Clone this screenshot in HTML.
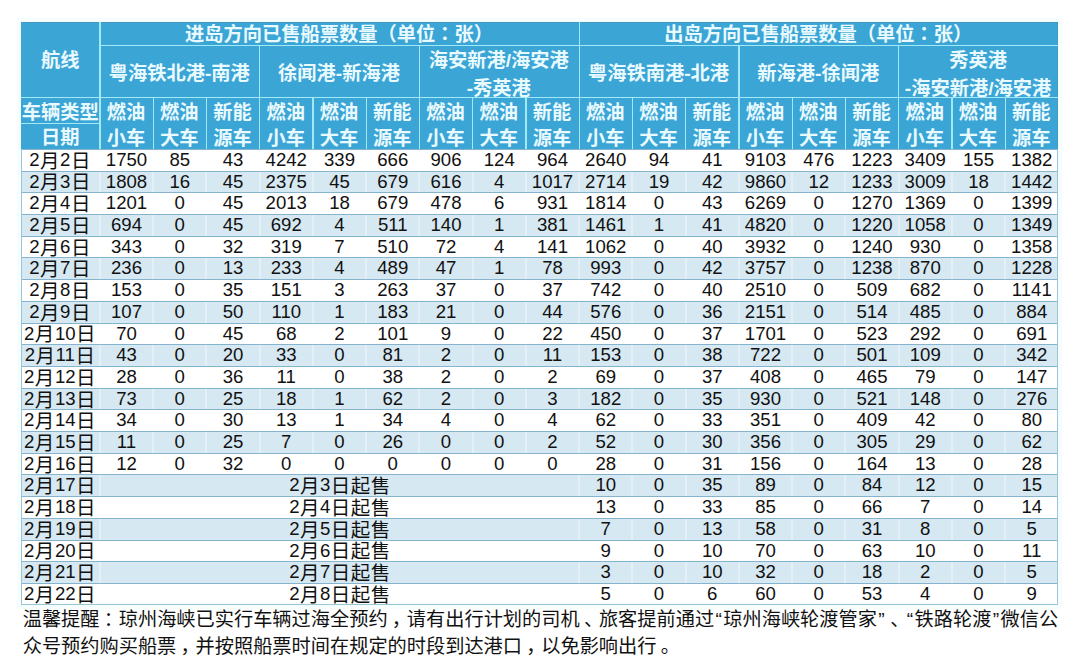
<!DOCTYPE html>
<html lang="zh-CN">
<head>
<meta charset="utf-8">
<title>琼州海峡已售船票数量</title>
<style>
html,body{margin:0;padding:0;background:#fff;}
body{width:1080px;height:671px;position:relative;overflow:hidden;
 font-family:"Liberation Sans","Noto Sans CJK SC",sans-serif;color:#111;}
.abs,.abs>*{position:absolute;}
#halo{left:17.3px;top:17.75px;width:1044.6px;height:590.95px;background:#f6fdfe;}
#head{left:21.3px;top:21.75px;width:1036.6px;height:127.15px;background:#3ba5d6;box-shadow:inset 0 1px 0 #4399c4,inset -1px 0 0 #4399c4;}
.vl{width:1.2px;background:#a2e9f8;}
.hl{height:1.2px;background:#a2e9f8;}
.h{color:#e9faff;font-weight:700;font-size:19.25px;line-height:24px;text-align:center;white-space:nowrap;}
#body{left:21.3px;top:148.9px;width:1036.6px;height:455.8px;background:#fff;
 box-sizing:border-box;border-left:1px solid #9cc6d8;border-right:1px solid #9cc6d8;border-bottom:1px solid #9cc6d8;}
.r{left:0;width:100%;height:21.7px;box-sizing:border-box;border-top:1px solid #86b3cd;font-size:18.6px;line-height:19.9px;}
.r.e{background:#d6e8f2;}
.r>*{position:absolute;}
.r>span{top:0;height:100%;text-align:center;white-space:nowrap;}
.r>span.d{left:-1.3px;width:78.1px;}
.r>span.m{left:78.1px;width:479.25px;}
.r i{font-style:normal;font-size:19.5px;letter-spacing:.5px;margin-left:.5px;position:relative;top:1.9px;}
.sv{top:0;width:2px;height:100%;background:rgba(255,255,255,.35);}
#note{left:22.7px;top:605.5px;width:1060px;font-size:19.22px;line-height:27px;color:#111;white-space:nowrap;}
u{text-decoration:none;position:relative;left:.22em;}
.h u{left:.25em;top:-1px;}
#note i{font-style:normal;display:inline-block;width:9.2px;text-align:center;}
</style>
</head>
<body>
<div id="halo" class="abs" style="position:absolute"></div>
<div id="head" class="abs" style="position:absolute">
<div class="vl" style="left:78.1px;top:0;height:100%"></div>
<div class="vl" style="left:557.35px;top:0;height:100%"></div>
<div class="vl" style="left:237.85px;top:23.55px;height:103.6px"></div>
<div class="vl" style="left:397.6px;top:23.55px;height:103.6px"></div>
<div class="vl" style="left:717.1px;top:23.55px;height:103.6px"></div>
<div class="vl" style="left:876.85px;top:23.55px;height:103.6px"></div>
<div class="vl" style="left:131.35px;top:75.45px;height:51.7px"></div>
<div class="vl" style="left:184.6px;top:75.45px;height:51.7px"></div>
<div class="vl" style="left:291.1px;top:75.45px;height:51.7px"></div>
<div class="vl" style="left:344.35px;top:75.45px;height:51.7px"></div>
<div class="vl" style="left:450.85px;top:75.45px;height:51.7px"></div>
<div class="vl" style="left:504.1px;top:75.45px;height:51.7px"></div>
<div class="vl" style="left:610.6px;top:75.45px;height:51.7px"></div>
<div class="vl" style="left:663.85px;top:75.45px;height:51.7px"></div>
<div class="vl" style="left:770.35px;top:75.45px;height:51.7px"></div>
<div class="vl" style="left:823.6px;top:75.45px;height:51.7px"></div>
<div class="vl" style="left:930.1px;top:75.45px;height:51.7px"></div>
<div class="vl" style="left:983.35px;top:75.45px;height:51.7px"></div>
<div class="hl" style="left:78.1px;top:23.55px;width:958.5px"></div>
<div class="hl" style="left:0;top:75.45px;width:100%"></div>
<div class="hl" style="left:0;top:100.75px;width:78.1px"></div>
<div class="h" style="left:0px;width:78.1px;top:27.35px;">航线</div>
<div class="h" style="left:0px;width:78.1px;top:78.75px;">车辆类型</div>
<div class="h" style="left:0px;width:78.1px;top:104.25px;">日期</div>
<div class="h" style="left:78.1px;width:479.25px;top:1.2px;">进岛方向已售船票数量（单位<u>：</u>张）</div>
<div class="h" style="left:557.35px;width:479.25px;top:1.2px;">出岛方向已售船票数量（单位<u>：</u>张）</div>
<div class="h" style="left:78.1px;width:159.75px;top:40.25px;">粤海铁北港-南港</div>
<div class="h" style="left:237.85px;width:159.75px;top:40.25px;">徐闻港-新海港</div>
<div class="h" style="left:397.6px;width:159.75px;top:27.25px;">海安新港/海安港</div>
<div class="h" style="left:397.6px;width:159.75px;top:54.95px;">-秀英港</div>
<div class="h" style="left:557.35px;width:159.75px;top:40.25px;">粤海铁南港-北港</div>
<div class="h" style="left:717.1px;width:159.75px;top:40.25px;">新海港-徐闻港</div>
<div class="h" style="left:876.85px;width:159.75px;top:27.25px;">秀英港</div>
<div class="h" style="left:876.85px;width:159.75px;top:54.95px;">-海安新港/海安港</div>
<div class="h" style="left:78.1px;width:53.25px;top:79.65px;">燃油</div>
<div class="h" style="left:78.1px;width:53.25px;top:105.25px;">小车</div>
<div class="h" style="left:131.35px;width:53.25px;top:79.65px;">燃油</div>
<div class="h" style="left:131.35px;width:53.25px;top:105.25px;">大车</div>
<div class="h" style="left:184.6px;width:53.25px;top:79.65px;">新能</div>
<div class="h" style="left:184.6px;width:53.25px;top:105.25px;">源车</div>
<div class="h" style="left:237.85px;width:53.25px;top:79.65px;">燃油</div>
<div class="h" style="left:237.85px;width:53.25px;top:105.25px;">小车</div>
<div class="h" style="left:291.1px;width:53.25px;top:79.65px;">燃油</div>
<div class="h" style="left:291.1px;width:53.25px;top:105.25px;">大车</div>
<div class="h" style="left:344.35px;width:53.25px;top:79.65px;">新能</div>
<div class="h" style="left:344.35px;width:53.25px;top:105.25px;">源车</div>
<div class="h" style="left:397.6px;width:53.25px;top:79.65px;">燃油</div>
<div class="h" style="left:397.6px;width:53.25px;top:105.25px;">小车</div>
<div class="h" style="left:450.85px;width:53.25px;top:79.65px;">燃油</div>
<div class="h" style="left:450.85px;width:53.25px;top:105.25px;">大车</div>
<div class="h" style="left:504.1px;width:53.25px;top:79.65px;">新能</div>
<div class="h" style="left:504.1px;width:53.25px;top:105.25px;">源车</div>
<div class="h" style="left:557.35px;width:53.25px;top:79.65px;">燃油</div>
<div class="h" style="left:557.35px;width:53.25px;top:105.25px;">小车</div>
<div class="h" style="left:610.6px;width:53.25px;top:79.65px;">燃油</div>
<div class="h" style="left:610.6px;width:53.25px;top:105.25px;">大车</div>
<div class="h" style="left:663.85px;width:53.25px;top:79.65px;">新能</div>
<div class="h" style="left:663.85px;width:53.25px;top:105.25px;">源车</div>
<div class="h" style="left:717.1px;width:53.25px;top:79.65px;">燃油</div>
<div class="h" style="left:717.1px;width:53.25px;top:105.25px;">小车</div>
<div class="h" style="left:770.35px;width:53.25px;top:79.65px;">燃油</div>
<div class="h" style="left:770.35px;width:53.25px;top:105.25px;">大车</div>
<div class="h" style="left:823.6px;width:53.25px;top:79.65px;">新能</div>
<div class="h" style="left:823.6px;width:53.25px;top:105.25px;">源车</div>
<div class="h" style="left:876.85px;width:53.25px;top:79.65px;">燃油</div>
<div class="h" style="left:876.85px;width:53.25px;top:105.25px;">小车</div>
<div class="h" style="left:930.1px;width:53.25px;top:79.65px;">燃油</div>
<div class="h" style="left:930.1px;width:53.25px;top:105.25px;">大车</div>
<div class="h" style="left:983.35px;width:53.25px;top:79.65px;">新能</div>
<div class="h" style="left:983.35px;width:53.25px;top:105.25px;">源车</div>
</div>
<div id="body" class="abs" style="position:absolute">
<div class="r" style="top:0px"><span class="d">2<i>月</i>2<i>日</i></span><span style="left:77.6px;width:53.25px">1750</span><span style="left:130.85px;width:53.25px">85</span><span style="left:184.1px;width:53.25px">43</span><span style="left:237.35px;width:53.25px">4242</span><span style="left:290.6px;width:53.25px">339</span><span style="left:343.85px;width:53.25px">666</span><span style="left:397.1px;width:53.25px">906</span><span style="left:450.35px;width:53.25px">124</span><span style="left:503.6px;width:53.25px">964</span><span style="left:556.85px;width:53.25px">2640</span><span style="left:610.1px;width:53.25px">94</span><span style="left:663.35px;width:53.25px">41</span><span style="left:716.6px;width:53.25px">9103</span><span style="left:769.85px;width:53.25px">476</span><span style="left:823.1px;width:53.25px">1223</span><span style="left:876.35px;width:53.25px">3409</span><span style="left:929.6px;width:53.25px">155</span><span style="left:982.85px;width:53.25px">1382</span></div>
<div class="r e" style="top:21.7px"><b class="sv" style="left:76.6px"></b><b class="sv" style="left:129.85px"></b><b class="sv" style="left:183.1px"></b><b class="sv" style="left:236.35px"></b><b class="sv" style="left:289.6px"></b><b class="sv" style="left:342.85px"></b><b class="sv" style="left:396.1px"></b><b class="sv" style="left:449.35px"></b><b class="sv" style="left:502.6px"></b><b class="sv" style="left:555.85px"></b><b class="sv" style="left:609.1px"></b><b class="sv" style="left:662.35px"></b><b class="sv" style="left:715.6px"></b><b class="sv" style="left:768.85px"></b><b class="sv" style="left:822.1px"></b><b class="sv" style="left:875.35px"></b><b class="sv" style="left:928.6px"></b><b class="sv" style="left:981.85px"></b><span class="d">2<i>月</i>3<i>日</i></span><span style="left:77.6px;width:53.25px">1808</span><span style="left:130.85px;width:53.25px">16</span><span style="left:184.1px;width:53.25px">45</span><span style="left:237.35px;width:53.25px">2375</span><span style="left:290.6px;width:53.25px">45</span><span style="left:343.85px;width:53.25px">679</span><span style="left:397.1px;width:53.25px">616</span><span style="left:450.35px;width:53.25px">4</span><span style="left:503.6px;width:53.25px">1017</span><span style="left:556.85px;width:53.25px">2714</span><span style="left:610.1px;width:53.25px">19</span><span style="left:663.35px;width:53.25px">42</span><span style="left:716.6px;width:53.25px">9860</span><span style="left:769.85px;width:53.25px">12</span><span style="left:823.1px;width:53.25px">1233</span><span style="left:876.35px;width:53.25px">3009</span><span style="left:929.6px;width:53.25px">18</span><span style="left:982.85px;width:53.25px">1442</span></div>
<div class="r" style="top:43.41px"><span class="d">2<i>月</i>4<i>日</i></span><span style="left:77.6px;width:53.25px">1201</span><span style="left:130.85px;width:53.25px">0</span><span style="left:184.1px;width:53.25px">45</span><span style="left:237.35px;width:53.25px">2013</span><span style="left:290.6px;width:53.25px">18</span><span style="left:343.85px;width:53.25px">679</span><span style="left:397.1px;width:53.25px">478</span><span style="left:450.35px;width:53.25px">6</span><span style="left:503.6px;width:53.25px">931</span><span style="left:556.85px;width:53.25px">1814</span><span style="left:610.1px;width:53.25px">0</span><span style="left:663.35px;width:53.25px">43</span><span style="left:716.6px;width:53.25px">6269</span><span style="left:769.85px;width:53.25px">0</span><span style="left:823.1px;width:53.25px">1270</span><span style="left:876.35px;width:53.25px">1369</span><span style="left:929.6px;width:53.25px">0</span><span style="left:982.85px;width:53.25px">1399</span></div>
<div class="r e" style="top:65.11px"><b class="sv" style="left:76.6px"></b><b class="sv" style="left:129.85px"></b><b class="sv" style="left:183.1px"></b><b class="sv" style="left:236.35px"></b><b class="sv" style="left:289.6px"></b><b class="sv" style="left:342.85px"></b><b class="sv" style="left:396.1px"></b><b class="sv" style="left:449.35px"></b><b class="sv" style="left:502.6px"></b><b class="sv" style="left:555.85px"></b><b class="sv" style="left:609.1px"></b><b class="sv" style="left:662.35px"></b><b class="sv" style="left:715.6px"></b><b class="sv" style="left:768.85px"></b><b class="sv" style="left:822.1px"></b><b class="sv" style="left:875.35px"></b><b class="sv" style="left:928.6px"></b><b class="sv" style="left:981.85px"></b><span class="d">2<i>月</i>5<i>日</i></span><span style="left:77.6px;width:53.25px">694</span><span style="left:130.85px;width:53.25px">0</span><span style="left:184.1px;width:53.25px">45</span><span style="left:237.35px;width:53.25px">692</span><span style="left:290.6px;width:53.25px">4</span><span style="left:343.85px;width:53.25px">511</span><span style="left:397.1px;width:53.25px">140</span><span style="left:450.35px;width:53.25px">1</span><span style="left:503.6px;width:53.25px">381</span><span style="left:556.85px;width:53.25px">1461</span><span style="left:610.1px;width:53.25px">1</span><span style="left:663.35px;width:53.25px">41</span><span style="left:716.6px;width:53.25px">4820</span><span style="left:769.85px;width:53.25px">0</span><span style="left:823.1px;width:53.25px">1220</span><span style="left:876.35px;width:53.25px">1058</span><span style="left:929.6px;width:53.25px">0</span><span style="left:982.85px;width:53.25px">1349</span></div>
<div class="r" style="top:86.82px"><span class="d">2<i>月</i>6<i>日</i></span><span style="left:77.6px;width:53.25px">343</span><span style="left:130.85px;width:53.25px">0</span><span style="left:184.1px;width:53.25px">32</span><span style="left:237.35px;width:53.25px">319</span><span style="left:290.6px;width:53.25px">7</span><span style="left:343.85px;width:53.25px">510</span><span style="left:397.1px;width:53.25px">72</span><span style="left:450.35px;width:53.25px">4</span><span style="left:503.6px;width:53.25px">141</span><span style="left:556.85px;width:53.25px">1062</span><span style="left:610.1px;width:53.25px">0</span><span style="left:663.35px;width:53.25px">40</span><span style="left:716.6px;width:53.25px">3932</span><span style="left:769.85px;width:53.25px">0</span><span style="left:823.1px;width:53.25px">1240</span><span style="left:876.35px;width:53.25px">930</span><span style="left:929.6px;width:53.25px">0</span><span style="left:982.85px;width:53.25px">1358</span></div>
<div class="r e" style="top:108.52px"><b class="sv" style="left:76.6px"></b><b class="sv" style="left:129.85px"></b><b class="sv" style="left:183.1px"></b><b class="sv" style="left:236.35px"></b><b class="sv" style="left:289.6px"></b><b class="sv" style="left:342.85px"></b><b class="sv" style="left:396.1px"></b><b class="sv" style="left:449.35px"></b><b class="sv" style="left:502.6px"></b><b class="sv" style="left:555.85px"></b><b class="sv" style="left:609.1px"></b><b class="sv" style="left:662.35px"></b><b class="sv" style="left:715.6px"></b><b class="sv" style="left:768.85px"></b><b class="sv" style="left:822.1px"></b><b class="sv" style="left:875.35px"></b><b class="sv" style="left:928.6px"></b><b class="sv" style="left:981.85px"></b><span class="d">2<i>月</i>7<i>日</i></span><span style="left:77.6px;width:53.25px">236</span><span style="left:130.85px;width:53.25px">0</span><span style="left:184.1px;width:53.25px">13</span><span style="left:237.35px;width:53.25px">233</span><span style="left:290.6px;width:53.25px">4</span><span style="left:343.85px;width:53.25px">489</span><span style="left:397.1px;width:53.25px">47</span><span style="left:450.35px;width:53.25px">1</span><span style="left:503.6px;width:53.25px">78</span><span style="left:556.85px;width:53.25px">993</span><span style="left:610.1px;width:53.25px">0</span><span style="left:663.35px;width:53.25px">42</span><span style="left:716.6px;width:53.25px">3757</span><span style="left:769.85px;width:53.25px">0</span><span style="left:823.1px;width:53.25px">1238</span><span style="left:876.35px;width:53.25px">870</span><span style="left:929.6px;width:53.25px">0</span><span style="left:982.85px;width:53.25px">1228</span></div>
<div class="r" style="top:130.23px"><span class="d">2<i>月</i>8<i>日</i></span><span style="left:77.6px;width:53.25px">153</span><span style="left:130.85px;width:53.25px">0</span><span style="left:184.1px;width:53.25px">35</span><span style="left:237.35px;width:53.25px">151</span><span style="left:290.6px;width:53.25px">3</span><span style="left:343.85px;width:53.25px">263</span><span style="left:397.1px;width:53.25px">37</span><span style="left:450.35px;width:53.25px">0</span><span style="left:503.6px;width:53.25px">37</span><span style="left:556.85px;width:53.25px">742</span><span style="left:610.1px;width:53.25px">0</span><span style="left:663.35px;width:53.25px">40</span><span style="left:716.6px;width:53.25px">2510</span><span style="left:769.85px;width:53.25px">0</span><span style="left:823.1px;width:53.25px">509</span><span style="left:876.35px;width:53.25px">682</span><span style="left:929.6px;width:53.25px">0</span><span style="left:982.85px;width:53.25px">1141</span></div>
<div class="r e" style="top:151.94px"><b class="sv" style="left:76.6px"></b><b class="sv" style="left:129.85px"></b><b class="sv" style="left:183.1px"></b><b class="sv" style="left:236.35px"></b><b class="sv" style="left:289.6px"></b><b class="sv" style="left:342.85px"></b><b class="sv" style="left:396.1px"></b><b class="sv" style="left:449.35px"></b><b class="sv" style="left:502.6px"></b><b class="sv" style="left:555.85px"></b><b class="sv" style="left:609.1px"></b><b class="sv" style="left:662.35px"></b><b class="sv" style="left:715.6px"></b><b class="sv" style="left:768.85px"></b><b class="sv" style="left:822.1px"></b><b class="sv" style="left:875.35px"></b><b class="sv" style="left:928.6px"></b><b class="sv" style="left:981.85px"></b><span class="d">2<i>月</i>9<i>日</i></span><span style="left:77.6px;width:53.25px">107</span><span style="left:130.85px;width:53.25px">0</span><span style="left:184.1px;width:53.25px">50</span><span style="left:237.35px;width:53.25px">110</span><span style="left:290.6px;width:53.25px">1</span><span style="left:343.85px;width:53.25px">183</span><span style="left:397.1px;width:53.25px">21</span><span style="left:450.35px;width:53.25px">0</span><span style="left:503.6px;width:53.25px">44</span><span style="left:556.85px;width:53.25px">576</span><span style="left:610.1px;width:53.25px">0</span><span style="left:663.35px;width:53.25px">36</span><span style="left:716.6px;width:53.25px">2151</span><span style="left:769.85px;width:53.25px">0</span><span style="left:823.1px;width:53.25px">514</span><span style="left:876.35px;width:53.25px">485</span><span style="left:929.6px;width:53.25px">0</span><span style="left:982.85px;width:53.25px">884</span></div>
<div class="r" style="top:173.64px"><span class="d">2<i>月</i>10<i>日</i></span><span style="left:77.6px;width:53.25px">70</span><span style="left:130.85px;width:53.25px">0</span><span style="left:184.1px;width:53.25px">45</span><span style="left:237.35px;width:53.25px">68</span><span style="left:290.6px;width:53.25px">2</span><span style="left:343.85px;width:53.25px">101</span><span style="left:397.1px;width:53.25px">9</span><span style="left:450.35px;width:53.25px">0</span><span style="left:503.6px;width:53.25px">22</span><span style="left:556.85px;width:53.25px">450</span><span style="left:610.1px;width:53.25px">0</span><span style="left:663.35px;width:53.25px">37</span><span style="left:716.6px;width:53.25px">1701</span><span style="left:769.85px;width:53.25px">0</span><span style="left:823.1px;width:53.25px">523</span><span style="left:876.35px;width:53.25px">292</span><span style="left:929.6px;width:53.25px">0</span><span style="left:982.85px;width:53.25px">691</span></div>
<div class="r e" style="top:195.34px"><b class="sv" style="left:76.6px"></b><b class="sv" style="left:129.85px"></b><b class="sv" style="left:183.1px"></b><b class="sv" style="left:236.35px"></b><b class="sv" style="left:289.6px"></b><b class="sv" style="left:342.85px"></b><b class="sv" style="left:396.1px"></b><b class="sv" style="left:449.35px"></b><b class="sv" style="left:502.6px"></b><b class="sv" style="left:555.85px"></b><b class="sv" style="left:609.1px"></b><b class="sv" style="left:662.35px"></b><b class="sv" style="left:715.6px"></b><b class="sv" style="left:768.85px"></b><b class="sv" style="left:822.1px"></b><b class="sv" style="left:875.35px"></b><b class="sv" style="left:928.6px"></b><b class="sv" style="left:981.85px"></b><span class="d">2<i>月</i>11<i>日</i></span><span style="left:77.6px;width:53.25px">43</span><span style="left:130.85px;width:53.25px">0</span><span style="left:184.1px;width:53.25px">20</span><span style="left:237.35px;width:53.25px">33</span><span style="left:290.6px;width:53.25px">0</span><span style="left:343.85px;width:53.25px">81</span><span style="left:397.1px;width:53.25px">2</span><span style="left:450.35px;width:53.25px">0</span><span style="left:503.6px;width:53.25px">11</span><span style="left:556.85px;width:53.25px">153</span><span style="left:610.1px;width:53.25px">0</span><span style="left:663.35px;width:53.25px">38</span><span style="left:716.6px;width:53.25px">722</span><span style="left:769.85px;width:53.25px">0</span><span style="left:823.1px;width:53.25px">501</span><span style="left:876.35px;width:53.25px">109</span><span style="left:929.6px;width:53.25px">0</span><span style="left:982.85px;width:53.25px">342</span></div>
<div class="r" style="top:217.05px"><span class="d">2<i>月</i>12<i>日</i></span><span style="left:77.6px;width:53.25px">28</span><span style="left:130.85px;width:53.25px">0</span><span style="left:184.1px;width:53.25px">36</span><span style="left:237.35px;width:53.25px">11</span><span style="left:290.6px;width:53.25px">0</span><span style="left:343.85px;width:53.25px">38</span><span style="left:397.1px;width:53.25px">2</span><span style="left:450.35px;width:53.25px">0</span><span style="left:503.6px;width:53.25px">2</span><span style="left:556.85px;width:53.25px">69</span><span style="left:610.1px;width:53.25px">0</span><span style="left:663.35px;width:53.25px">37</span><span style="left:716.6px;width:53.25px">408</span><span style="left:769.85px;width:53.25px">0</span><span style="left:823.1px;width:53.25px">465</span><span style="left:876.35px;width:53.25px">79</span><span style="left:929.6px;width:53.25px">0</span><span style="left:982.85px;width:53.25px">147</span></div>
<div class="r e" style="top:238.75px"><b class="sv" style="left:76.6px"></b><b class="sv" style="left:129.85px"></b><b class="sv" style="left:183.1px"></b><b class="sv" style="left:236.35px"></b><b class="sv" style="left:289.6px"></b><b class="sv" style="left:342.85px"></b><b class="sv" style="left:396.1px"></b><b class="sv" style="left:449.35px"></b><b class="sv" style="left:502.6px"></b><b class="sv" style="left:555.85px"></b><b class="sv" style="left:609.1px"></b><b class="sv" style="left:662.35px"></b><b class="sv" style="left:715.6px"></b><b class="sv" style="left:768.85px"></b><b class="sv" style="left:822.1px"></b><b class="sv" style="left:875.35px"></b><b class="sv" style="left:928.6px"></b><b class="sv" style="left:981.85px"></b><span class="d">2<i>月</i>13<i>日</i></span><span style="left:77.6px;width:53.25px">73</span><span style="left:130.85px;width:53.25px">0</span><span style="left:184.1px;width:53.25px">25</span><span style="left:237.35px;width:53.25px">18</span><span style="left:290.6px;width:53.25px">1</span><span style="left:343.85px;width:53.25px">62</span><span style="left:397.1px;width:53.25px">2</span><span style="left:450.35px;width:53.25px">0</span><span style="left:503.6px;width:53.25px">3</span><span style="left:556.85px;width:53.25px">182</span><span style="left:610.1px;width:53.25px">0</span><span style="left:663.35px;width:53.25px">35</span><span style="left:716.6px;width:53.25px">930</span><span style="left:769.85px;width:53.25px">0</span><span style="left:823.1px;width:53.25px">521</span><span style="left:876.35px;width:53.25px">148</span><span style="left:929.6px;width:53.25px">0</span><span style="left:982.85px;width:53.25px">276</span></div>
<div class="r" style="top:260.46px"><span class="d">2<i>月</i>14<i>日</i></span><span style="left:77.6px;width:53.25px">34</span><span style="left:130.85px;width:53.25px">0</span><span style="left:184.1px;width:53.25px">30</span><span style="left:237.35px;width:53.25px">13</span><span style="left:290.6px;width:53.25px">1</span><span style="left:343.85px;width:53.25px">34</span><span style="left:397.1px;width:53.25px">4</span><span style="left:450.35px;width:53.25px">0</span><span style="left:503.6px;width:53.25px">4</span><span style="left:556.85px;width:53.25px">62</span><span style="left:610.1px;width:53.25px">0</span><span style="left:663.35px;width:53.25px">33</span><span style="left:716.6px;width:53.25px">351</span><span style="left:769.85px;width:53.25px">0</span><span style="left:823.1px;width:53.25px">409</span><span style="left:876.35px;width:53.25px">42</span><span style="left:929.6px;width:53.25px">0</span><span style="left:982.85px;width:53.25px">80</span></div>
<div class="r e" style="top:282.16px"><b class="sv" style="left:76.6px"></b><b class="sv" style="left:129.85px"></b><b class="sv" style="left:183.1px"></b><b class="sv" style="left:236.35px"></b><b class="sv" style="left:289.6px"></b><b class="sv" style="left:342.85px"></b><b class="sv" style="left:396.1px"></b><b class="sv" style="left:449.35px"></b><b class="sv" style="left:502.6px"></b><b class="sv" style="left:555.85px"></b><b class="sv" style="left:609.1px"></b><b class="sv" style="left:662.35px"></b><b class="sv" style="left:715.6px"></b><b class="sv" style="left:768.85px"></b><b class="sv" style="left:822.1px"></b><b class="sv" style="left:875.35px"></b><b class="sv" style="left:928.6px"></b><b class="sv" style="left:981.85px"></b><span class="d">2<i>月</i>15<i>日</i></span><span style="left:77.6px;width:53.25px">11</span><span style="left:130.85px;width:53.25px">0</span><span style="left:184.1px;width:53.25px">25</span><span style="left:237.35px;width:53.25px">7</span><span style="left:290.6px;width:53.25px">0</span><span style="left:343.85px;width:53.25px">26</span><span style="left:397.1px;width:53.25px">0</span><span style="left:450.35px;width:53.25px">0</span><span style="left:503.6px;width:53.25px">2</span><span style="left:556.85px;width:53.25px">52</span><span style="left:610.1px;width:53.25px">0</span><span style="left:663.35px;width:53.25px">30</span><span style="left:716.6px;width:53.25px">356</span><span style="left:769.85px;width:53.25px">0</span><span style="left:823.1px;width:53.25px">305</span><span style="left:876.35px;width:53.25px">29</span><span style="left:929.6px;width:53.25px">0</span><span style="left:982.85px;width:53.25px">62</span></div>
<div class="r" style="top:303.87px"><span class="d">2<i>月</i>16<i>日</i></span><span style="left:77.6px;width:53.25px">12</span><span style="left:130.85px;width:53.25px">0</span><span style="left:184.1px;width:53.25px">32</span><span style="left:237.35px;width:53.25px">0</span><span style="left:290.6px;width:53.25px">0</span><span style="left:343.85px;width:53.25px">0</span><span style="left:397.1px;width:53.25px">0</span><span style="left:450.35px;width:53.25px">0</span><span style="left:503.6px;width:53.25px">0</span><span style="left:556.85px;width:53.25px">28</span><span style="left:610.1px;width:53.25px">0</span><span style="left:663.35px;width:53.25px">31</span><span style="left:716.6px;width:53.25px">156</span><span style="left:769.85px;width:53.25px">0</span><span style="left:823.1px;width:53.25px">164</span><span style="left:876.35px;width:53.25px">13</span><span style="left:929.6px;width:53.25px">0</span><span style="left:982.85px;width:53.25px">28</span></div>
<div class="r e" style="top:325.57px"><b class="sv" style="left:76.6px"></b><b class="sv" style="left:555.85px"></b><b class="sv" style="left:609.1px"></b><b class="sv" style="left:662.35px"></b><b class="sv" style="left:715.6px"></b><b class="sv" style="left:768.85px"></b><b class="sv" style="left:822.1px"></b><b class="sv" style="left:875.35px"></b><b class="sv" style="left:928.6px"></b><b class="sv" style="left:981.85px"></b><span class="d">2<i>月</i>17<i>日</i></span><span class="m">2<i>月</i>3<i>日起售</i></span><span style="left:556.85px;width:53.25px">10</span><span style="left:610.1px;width:53.25px">0</span><span style="left:663.35px;width:53.25px">35</span><span style="left:716.6px;width:53.25px">89</span><span style="left:769.85px;width:53.25px">0</span><span style="left:823.1px;width:53.25px">84</span><span style="left:876.35px;width:53.25px">12</span><span style="left:929.6px;width:53.25px">0</span><span style="left:982.85px;width:53.25px">15</span></div>
<div class="r" style="top:347.28px"><span class="d">2<i>月</i>18<i>日</i></span><span class="m">2<i>月</i>4<i>日起售</i></span><span style="left:556.85px;width:53.25px">13</span><span style="left:610.1px;width:53.25px">0</span><span style="left:663.35px;width:53.25px">33</span><span style="left:716.6px;width:53.25px">85</span><span style="left:769.85px;width:53.25px">0</span><span style="left:823.1px;width:53.25px">66</span><span style="left:876.35px;width:53.25px">7</span><span style="left:929.6px;width:53.25px">0</span><span style="left:982.85px;width:53.25px">14</span></div>
<div class="r e" style="top:368.98px"><b class="sv" style="left:76.6px"></b><b class="sv" style="left:555.85px"></b><b class="sv" style="left:609.1px"></b><b class="sv" style="left:662.35px"></b><b class="sv" style="left:715.6px"></b><b class="sv" style="left:768.85px"></b><b class="sv" style="left:822.1px"></b><b class="sv" style="left:875.35px"></b><b class="sv" style="left:928.6px"></b><b class="sv" style="left:981.85px"></b><span class="d">2<i>月</i>19<i>日</i></span><span class="m">2<i>月</i>5<i>日起售</i></span><span style="left:556.85px;width:53.25px">7</span><span style="left:610.1px;width:53.25px">0</span><span style="left:663.35px;width:53.25px">13</span><span style="left:716.6px;width:53.25px">58</span><span style="left:769.85px;width:53.25px">0</span><span style="left:823.1px;width:53.25px">31</span><span style="left:876.35px;width:53.25px">8</span><span style="left:929.6px;width:53.25px">0</span><span style="left:982.85px;width:53.25px">5</span></div>
<div class="r" style="top:390.69px"><span class="d">2<i>月</i>20<i>日</i></span><span class="m">2<i>月</i>6<i>日起售</i></span><span style="left:556.85px;width:53.25px">9</span><span style="left:610.1px;width:53.25px">0</span><span style="left:663.35px;width:53.25px">10</span><span style="left:716.6px;width:53.25px">70</span><span style="left:769.85px;width:53.25px">0</span><span style="left:823.1px;width:53.25px">63</span><span style="left:876.35px;width:53.25px">10</span><span style="left:929.6px;width:53.25px">0</span><span style="left:982.85px;width:53.25px">11</span></div>
<div class="r e" style="top:412.39px"><b class="sv" style="left:76.6px"></b><b class="sv" style="left:555.85px"></b><b class="sv" style="left:609.1px"></b><b class="sv" style="left:662.35px"></b><b class="sv" style="left:715.6px"></b><b class="sv" style="left:768.85px"></b><b class="sv" style="left:822.1px"></b><b class="sv" style="left:875.35px"></b><b class="sv" style="left:928.6px"></b><b class="sv" style="left:981.85px"></b><span class="d">2<i>月</i>21<i>日</i></span><span class="m">2<i>月</i>7<i>日起售</i></span><span style="left:556.85px;width:53.25px">3</span><span style="left:610.1px;width:53.25px">0</span><span style="left:663.35px;width:53.25px">10</span><span style="left:716.6px;width:53.25px">32</span><span style="left:769.85px;width:53.25px">0</span><span style="left:823.1px;width:53.25px">18</span><span style="left:876.35px;width:53.25px">2</span><span style="left:929.6px;width:53.25px">0</span><span style="left:982.85px;width:53.25px">5</span></div>
<div class="r" style="top:434.1px"><span class="d">2<i>月</i>22<i>日</i></span><span class="m">2<i>月</i>8<i>日起售</i></span><span style="left:556.85px;width:53.25px">5</span><span style="left:610.1px;width:53.25px">0</span><span style="left:663.35px;width:53.25px">6</span><span style="left:716.6px;width:53.25px">60</span><span style="left:769.85px;width:53.25px">0</span><span style="left:823.1px;width:53.25px">53</span><span style="left:876.35px;width:53.25px">4</span><span style="left:929.6px;width:53.25px">0</span><span style="left:982.85px;width:53.25px">9</span></div>
</div>
<div id="note" class="abs" style="position:absolute"><div style="position:static">温馨提醒<u>：</u>琼州海峡已实行车辆过海全预约<u>，</u>请有出行计划的司机<u>、</u>旅客提前通过<i>“</i>琼州海峡轮渡管家<i>”</i><u>、</u><i>“</i>铁路轮渡<i>”</i>微信公</div><div style="position:static">众号预约购买船票<u>，</u>并按照船票时间在规定的时段到达港口<u>，</u>以免影响出行<u>。</u></div></div>
</body>
</html>
